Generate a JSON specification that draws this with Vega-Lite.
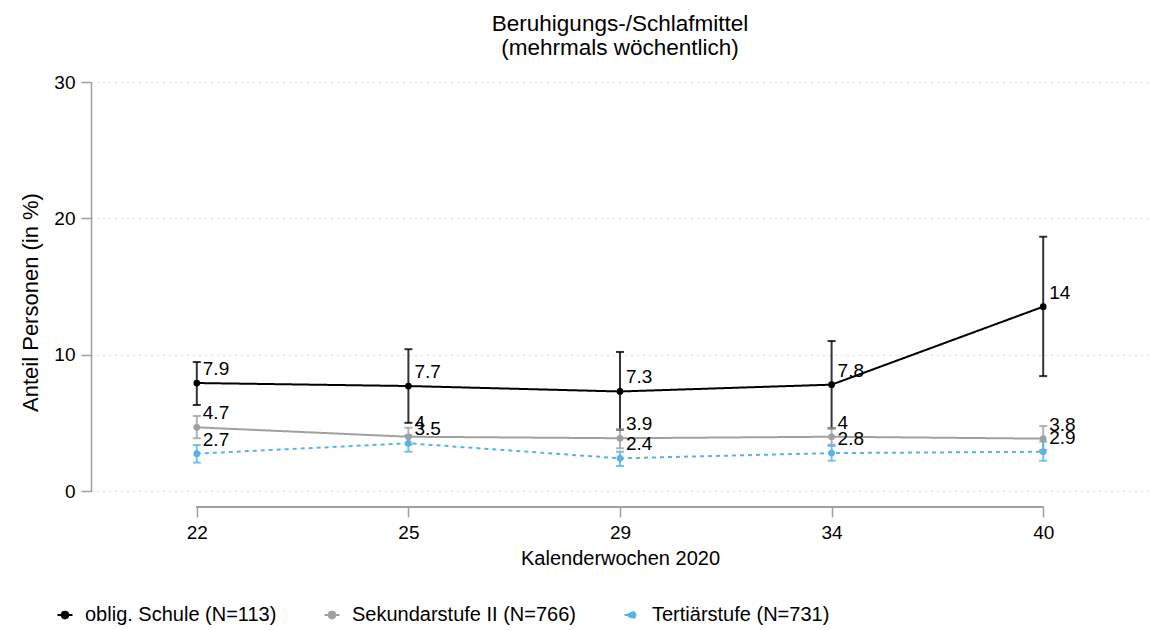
{
  "$schema": "https://vega.github.io/schema/vega-lite/v6.json",
  "autosize": "none",
  "padding": {"left": 91, "top": 82, "right": 2, "bottom": 139},
  "width": 1058,
  "height": 409,
  "title": {
    "text": ["Beruhigungs-/Schlafmittel", "(mehrmals wöchentlich)"],
    "fontSize": 22.5,
    "fontWeight": "normal",
    "font": "Liberation Sans",
    "lineHeight": 24,
    "color": "#000000",
    "anchor": "middle",
    "offset": 14
  },
  "data": {
    "values": [
      {"group": "oblig. Schule (N=113)", "kw": "22", "value": 7.92, "lo": 6.31, "hi": 9.46, "label": "7.9"},
      {"group": "oblig. Schule (N=113)", "kw": "25", "value": 7.70, "lo": 5.0, "hi": 10.4, "label": "7.7"},
      {"group": "oblig. Schule (N=113)", "kw": "29", "value": 7.30, "lo": 4.5, "hi": 10.2, "label": "7.3"},
      {"group": "oblig. Schule (N=113)", "kw": "34", "value": 7.80, "lo": 4.6, "hi": 11.0, "label": "7.8"},
      {"group": "oblig. Schule (N=113)", "kw": "40", "value": 13.52, "lo": 8.43, "hi": 18.65, "label": "14"},
      {"group": "Sekundarstufe II (N=766)", "kw": "22", "value": 4.67, "lo": 3.87, "hi": 5.5, "label": "4.7"},
      {"group": "Sekundarstufe II (N=766)", "kw": "25", "value": 3.98, "lo": 3.4, "hi": 4.64, "label": "4"},
      {"group": "Sekundarstufe II (N=766)", "kw": "29", "value": 3.87, "lo": 3.13, "hi": 4.52, "label": "3.9"},
      {"group": "Sekundarstufe II (N=766)", "kw": "34", "value": 3.98, "lo": 3.4, "hi": 4.6, "label": "4"},
      {"group": "Sekundarstufe II (N=766)", "kw": "40", "value": 3.84, "lo": 3.0, "hi": 4.77, "label": "3.8"},
      {"group": "Tertiärstufe (N=731)", "kw": "22", "value": 2.74, "lo": 2.08, "hi": 3.37, "label": "2.7"},
      {"group": "Tertiärstufe (N=731)", "kw": "25", "value": 3.5, "lo": 2.88, "hi": 4.1, "label": "3.5"},
      {"group": "Tertiärstufe (N=731)", "kw": "29", "value": 2.4, "lo": 1.83, "hi": 2.88, "label": "2.4"},
      {"group": "Tertiärstufe (N=731)", "kw": "34", "value": 2.78, "lo": 2.22, "hi": 3.3, "label": "2.8"},
      {"group": "Tertiärstufe (N=731)", "kw": "40", "value": 2.88, "lo": 2.22, "hi": 3.62, "label": "2.9"}
    ]
  },
  "encoding": {
    "x": {
      "field": "kw",
      "type": "ordinal",
      "scale": {"type": "point", "padding": 0.5},
      "axis": {
        "title": "Kalenderwochen 2020",
        "titleFontSize": 20,
        "titleFontWeight": "normal",
        "titleFont": "Liberation Sans",
        "titleColor": "#000000",
        "titlePadding": 6,
        "labelFontSize": 19,
        "labelFont": "Liberation Sans",
        "labelColor": "#000000",
        "labelAngle": 0,
        "labelPadding": 6,
        "domain": false,
        "ticks": true,
        "tickSize": 10,
        "tickColor": "#a0a0a0",
        "tickWidth": 1.5,
        "offset": 16,
        "grid": false
      }
    },
    "color": {
      "field": "group",
      "type": "nominal",
      "scale": {
        "domain": ["oblig. Schule (N=113)", "Sekundarstufe II (N=766)", "Tertiärstufe (N=731)"],
        "range": ["#000000", "#a0a0a0", "#56b4e9"]
      },
      "legend": {
        "title": null,
        "orient": "none",
        "legendX": -36,
        "legendY": 523,
        "direction": "horizontal",
        "labelFontSize": 20,
        "labelFont": "Liberation Sans",
        "labelColor": "#000000",
        "labelLimit": 500,
        "labelOffset": 10,
        "columnPadding": 43,
        "symbolType": "M-1,0L1,0M0.45,0A0.45,0.45,0,1,1,-0.45,0A0.45,0.45,0,1,1,0.45,0Z",
        "symbolSize": 225,
        "symbolStrokeWidth": 2,
        "symbolOpacity": 1,
        "encode": {
          "symbols": {
            "update": {
              "stroke": {"scale": "color", "field": "value"},
              "fill": {"scale": "color", "field": "value"},
              "strokeDash": {"value": [1, 0]},
              "opacity": {"value": 1}
            }
          }
        }
      }
    }
  },
  "layer": [
    {
      "mark": {"type": "rule", "color": "#a0a0a0", "strokeWidth": 1.5},
      "encoding": {
        "x": {"datum": "22"},
        "x2": {"datum": "40"},
        "y": {"datum": -1.17, "type": "quantitative"},
        "color": {"value": "#a0a0a0"}
      }
    },
    {
      "mark": {"type": "rule", "strokeWidth": 2, "opacity": 0.8},
      "encoding": {
        "y": {
          "field": "lo",
          "type": "quantitative",
          "scale": {"domain": [0, 30], "nice": false, "zero": false},
          "axis": {
            "title": "Anteil Personen (in %)",
            "titleFontSize": 22,
            "titleFontWeight": "normal",
            "titleFont": "Liberation Sans",
            "titleColor": "#000000",
            "titleAngle": -90,
            "titleX": -61,
            "titleY": 220,
            "titleAlign": "center",
            "titleBaseline": "middle",
            "values": [0, 10, 20, 30],
            "labelFontSize": 19,
            "labelFont": "Liberation Sans",
            "labelColor": "#000000",
            "labelPadding": 6,
            "tickSize": 10,
            "tickColor": "#a0a0a0",
            "tickWidth": 1.5,
            "domainColor": "#a0a0a0",
            "domainWidth": 1.5,
            "grid": true,
            "gridColor": "#b8b8b8",
            "gridDash": [1, 5],
            "gridWidth": 1
          }
        },
        "y2": {"field": "hi"}
      }
    },
    {
      "mark": {"type": "tick", "thickness": 2, "size": 8, "opacity": 0.8},
      "encoding": {
        "y": {"field": "lo", "type": "quantitative"}
      }
    },
    {
      "mark": {"type": "tick", "thickness": 2, "size": 8, "opacity": 0.8},
      "encoding": {
        "y": {"field": "hi", "type": "quantitative"}
      }
    },
    {
      "mark": {"type": "line", "strokeWidth": 2},
      "encoding": {
        "y": {"field": "value", "type": "quantitative"},
        "strokeDash": {
          "field": "group",
          "type": "nominal",
          "scale": {
            "domain": ["oblig. Schule (N=113)", "Sekundarstufe II (N=766)", "Tertiärstufe (N=731)"],
            "range": [[1, 0], [1, 0], [4, 4]]
          },
          "legend": null
        }
      }
    },
    {
      "mark": {"type": "point", "filled": true, "size": 45, "opacity": 1},
      "encoding": {
        "y": {"field": "value", "type": "quantitative"}
      }
    },
    {
      "mark": {
        "type": "text",
        "align": "left",
        "baseline": "alphabetic",
        "dx": 6,
        "dy": -8,
        "fontSize": 19,
        "font": "Liberation Sans"
      },
      "encoding": {
        "y": {"field": "value", "type": "quantitative"},
        "text": {"field": "label", "type": "nominal"},
        "color": {"value": "#000000"}
      }
    }
  ],
  "config": {
    "view": {"stroke": null},
    "font": "Liberation Sans"
  }
}
